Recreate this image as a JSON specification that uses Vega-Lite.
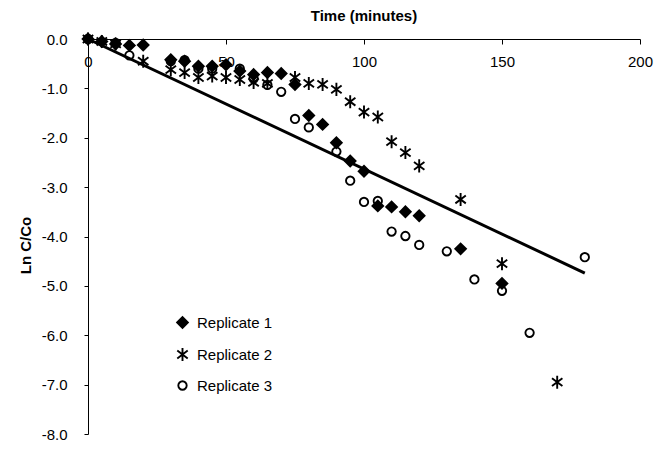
{
  "$schema": "https://vega.github.io/schema/vega-lite/v6.json",
  "width": 552,
  "height": 395,
  "autosize": "none",
  "padding": {"left": 88, "top": 39, "right": 32, "bottom": 15},
  "background": "white",
  "title": {"text": "Time (minutes)", "anchor": "middle", "frame": "group", "font": "Liberation Sans", "fontSize": 15, "fontWeight": "bold", "color": "black", "offset": 5},
  "config": {
    "view": {"stroke": null},
    "axis": {"grid": false, "domainColor": "black", "tickColor": "black", "labelColor": "black", "titleColor": "black", "labelFont": "Liberation Sans", "titleFont": "Liberation Sans", "labelFontSize": 15, "titleFontSize": 15, "domainWidth": 1, "tickWidth": 1}
  },
  "layer": [
    {
      "data": {"values": [{"t": 0, "v": 0}, {"t": 180, "v": -4.74}]},
      "mark": {"type": "line", "color": "black", "strokeWidth": 3},
      "encoding": {
        "x": {"field": "t", "type": "quantitative"},
        "y": {"field": "v", "type": "quantitative"}
      }
    },
    {
      "data": {"values": [
        {"t": 0, "v": 0, "s": "Replicate 1"},
        {"t": 5, "v": -0.05, "s": "Replicate 1"},
        {"t": 10, "v": -0.1, "s": "Replicate 1"},
        {"t": 15, "v": -0.13, "s": "Replicate 1"},
        {"t": 20, "v": -0.12, "s": "Replicate 1"},
        {"t": 30, "v": -0.42, "s": "Replicate 1"},
        {"t": 35, "v": -0.45, "s": "Replicate 1"},
        {"t": 40, "v": -0.55, "s": "Replicate 1"},
        {"t": 45, "v": -0.55, "s": "Replicate 1"},
        {"t": 50, "v": -0.52, "s": "Replicate 1"},
        {"t": 55, "v": -0.65, "s": "Replicate 1"},
        {"t": 60, "v": -0.72, "s": "Replicate 1"},
        {"t": 65, "v": -0.68, "s": "Replicate 1"},
        {"t": 70, "v": -0.7, "s": "Replicate 1"},
        {"t": 75, "v": -0.92, "s": "Replicate 1"},
        {"t": 80, "v": -1.55, "s": "Replicate 1"},
        {"t": 85, "v": -1.73, "s": "Replicate 1"},
        {"t": 90, "v": -2.1, "s": "Replicate 1"},
        {"t": 95, "v": -2.47, "s": "Replicate 1"},
        {"t": 100, "v": -2.68, "s": "Replicate 1"},
        {"t": 105, "v": -3.38, "s": "Replicate 1"},
        {"t": 110, "v": -3.4, "s": "Replicate 1"},
        {"t": 115, "v": -3.5, "s": "Replicate 1"},
        {"t": 120, "v": -3.58, "s": "Replicate 1"},
        {"t": 135, "v": -4.25, "s": "Replicate 1"},
        {"t": 150, "v": -4.95, "s": "Replicate 1"},
        {"t": 0, "v": 0, "s": "Replicate 2"},
        {"t": 5, "v": -0.05, "s": "Replicate 2"},
        {"t": 10, "v": -0.1, "s": "Replicate 2"},
        {"t": 20, "v": -0.45, "s": "Replicate 2"},
        {"t": 30, "v": -0.62, "s": "Replicate 2"},
        {"t": 35, "v": -0.68, "s": "Replicate 2"},
        {"t": 40, "v": -0.78, "s": "Replicate 2"},
        {"t": 45, "v": -0.75, "s": "Replicate 2"},
        {"t": 50, "v": -0.78, "s": "Replicate 2"},
        {"t": 55, "v": -0.82, "s": "Replicate 2"},
        {"t": 60, "v": -0.88, "s": "Replicate 2"},
        {"t": 65, "v": -0.9, "s": "Replicate 2"},
        {"t": 75, "v": -0.78, "s": "Replicate 2"},
        {"t": 80, "v": -0.9, "s": "Replicate 2"},
        {"t": 85, "v": -0.92, "s": "Replicate 2"},
        {"t": 90, "v": -1.02, "s": "Replicate 2"},
        {"t": 95, "v": -1.27, "s": "Replicate 2"},
        {"t": 100, "v": -1.48, "s": "Replicate 2"},
        {"t": 105, "v": -1.58, "s": "Replicate 2"},
        {"t": 110, "v": -2.08, "s": "Replicate 2"},
        {"t": 115, "v": -2.3, "s": "Replicate 2"},
        {"t": 120, "v": -2.57, "s": "Replicate 2"},
        {"t": 135, "v": -3.25, "s": "Replicate 2"},
        {"t": 150, "v": -4.55, "s": "Replicate 2"},
        {"t": 170, "v": -6.95, "s": "Replicate 2"},
        {"t": 0, "v": 0, "s": "Replicate 3"},
        {"t": 10, "v": -0.08, "s": "Replicate 3"},
        {"t": 15, "v": -0.33, "s": "Replicate 3"},
        {"t": 30, "v": -0.45, "s": "Replicate 3"},
        {"t": 35, "v": -0.43, "s": "Replicate 3"},
        {"t": 40, "v": -0.6, "s": "Replicate 3"},
        {"t": 45, "v": -0.6, "s": "Replicate 3"},
        {"t": 55, "v": -0.6, "s": "Replicate 3"},
        {"t": 60, "v": -0.8, "s": "Replicate 3"},
        {"t": 65, "v": -0.93, "s": "Replicate 3"},
        {"t": 70, "v": -1.07, "s": "Replicate 3"},
        {"t": 75, "v": -1.62, "s": "Replicate 3"},
        {"t": 80, "v": -1.79, "s": "Replicate 3"},
        {"t": 90, "v": -2.28, "s": "Replicate 3"},
        {"t": 95, "v": -2.87, "s": "Replicate 3"},
        {"t": 100, "v": -3.3, "s": "Replicate 3"},
        {"t": 105, "v": -3.28, "s": "Replicate 3"},
        {"t": 110, "v": -3.9, "s": "Replicate 3"},
        {"t": 115, "v": -3.99, "s": "Replicate 3"},
        {"t": 120, "v": -4.17, "s": "Replicate 3"},
        {"t": 130, "v": -4.3, "s": "Replicate 3"},
        {"t": 140, "v": -4.87, "s": "Replicate 3"},
        {"t": 150, "v": -5.1, "s": "Replicate 3"},
        {"t": 160, "v": -5.95, "s": "Replicate 3"},
        {"t": 180, "v": -4.42, "s": "Replicate 3"}
      ]},
      "mark": {"type": "point", "filled": false, "stroke": "black", "strokeWidth": 1.9, "opacity": 1},
      "encoding": {
        "x": {"field": "t", "type": "quantitative", "scale": {"domain": [0, 200], "nice": false},
          "axis": {"orient": "bottom", "offset": -395, "values": [0, 50, 100, 150, 200], "title": null, "tickSize": 5, "labelPadding": 10, "labelFlush": false}},
        "y": {"field": "v", "type": "quantitative", "scale": {"domain": [-8, 0], "nice": false},
          "axis": {"values": [0, -1, -2, -3, -4, -5, -6, -7, -8], "labelExpr": "replace(format(datum.value, '.1f'), '\u2212', '-')", "title": "Ln C/Co", "titleFontWeight": "bold", "tickSize": 4, "labelPadding": 17, "titlePadding": 8, "titleY": 206}},
        "shape": {"field": "s", "type": "nominal", "scale": {"domain": ["Replicate 1", "Replicate 2", "Replicate 3"], "range": ["diamond", "M0,-1L0,1M-0.8,-0.6L0.8,0.6M-0.8,0.6L0.8,-0.6", "circle"]},
          "legend": {"orient": "none", "legendX": 87, "legendY": 276, "title": null, "labelFont": "Liberation Sans", "labelFontSize": 15, "labelColor": "black", "labelOffset": 7, "rowPadding": 12, "symbolStrokeColor": "black", "symbolStrokeWidth": 1.9}},
        "fill": {"field": "s", "type": "nominal", "scale": {"domain": ["Replicate 1", "Replicate 2", "Replicate 3"], "range": ["black", "transparent", "transparent"]}},
        "size": {"field": "s", "type": "nominal", "scale": {"type": "ordinal", "domain": ["Replicate 1", "Replicate 2", "Replicate 3"], "range": [115, 170, 70]}}
      }
    }
  ]
}
